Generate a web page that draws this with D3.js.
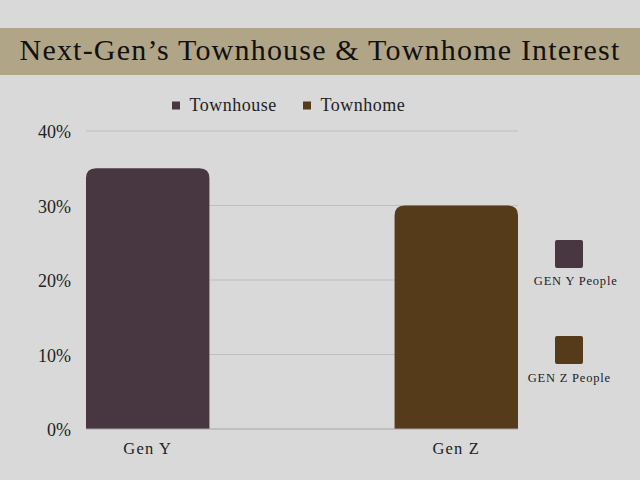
<!DOCTYPE html>
<html>
<head>
<meta charset="utf-8">
<script src="https://cdn.jsdelivr.net/npm/d3@7"></script>
<style>
  html, body { margin: 0; padding: 0; background: #d9d9d9; }
</style>
</head>
<body>
<svg id="chart" width="640" height="480"></svg>
<script>
// chart data
const categories = ["Gen Y", "Gen Z"];
const values = [0.35, 0.30];
const seriesNames = ["Townhouse", "Townhome"];
const sideLabels = ["GEN Y People", "GEN Z People"];
const colors = ["#483741", "#553b1a"];
const yTicks = [0, 0.1, 0.2, 0.3, 0.4];

const FONT = "'Liberation Serif', 'Times New Roman', 'DejaVu Serif', serif";

const svg = d3.select("#chart").attr("font-family", FONT);
const width = 640, height = 480;

svg.append("rect").attr("width", width).attr("height", height).attr("fill", "#d9d9d9");

// title banner
svg.append("rect")
  .attr("x", 0).attr("y", 28).attr("width", width).attr("height", 47)
  .attr("fill", "#b1a587");
svg.append("text")
  .attr("x", width / 2).attr("y", 59.5)
  .attr("text-anchor", "middle")
  .attr("font-size", 30)
  .attr("letter-spacing", 1.2)
  .attr("fill", "#111")
  .text("Next-Gen\u2019s Townhouse & Townhome Interest");

const margin = { top: 131, right: 122, bottom: 51, left: 86 };
const w = width - margin.left - margin.right;
const h = height - margin.top - margin.bottom;

const g = svg.append("g").attr("transform", `translate(${margin.left},${margin.top})`);

const x = d3.scaleBand().domain(categories).range([0, w]).paddingInner(0.6).paddingOuter(0);
const y = d3.scaleLinear().domain([0, 0.4]).range([h, 0]);

// gridlines
g.selectAll(".grid")
  .data(yTicks.filter(d => d > 0))
  .join("line")
  .attr("x1", 0).attr("x2", w)
  .attr("y1", d => y(d)).attr("y2", d => y(d))
  .attr("stroke", "#bfbfbf").attr("stroke-width", 1);

// y axis labels
const yAxis = g.append("g")
  .call(d3.axisLeft(y).tickValues(yTicks).tickFormat(d3.format(".0%")).tickSize(0).tickPadding(15))
  .attr("font-family", FONT);
yAxis.select(".domain").remove();
yAxis.selectAll("text").attr("font-size", 18).attr("fill", "#222").attr("dy", "0.37em");

// bars with rounded top corners
const r = 10;
g.selectAll(".bar")
  .data(categories.map((c, i) => ({ c, v: values[i], col: colors[i] })))
  .join("path")
  .attr("fill", d => d.col)
  .attr("d", d => {
    const x0 = x(d.c), x1 = x0 + x.bandwidth(), y0 = y(d.v), yb = y(0);
    return `M${x0},${yb}V${y0 + r}Q${x0},${y0} ${x0 + r},${y0}H${x1 - r}Q${x1},${y0} ${x1},${y0 + r}V${yb}Z`;
  });

// baseline
g.append("line")
  .attr("x1", 0).attr("x2", w).attr("y1", y(0)).attr("y2", y(0))
  .attr("stroke", "#a6a6a6").attr("stroke-width", 1);

// x axis labels
const xAxis = g.append("g").attr("transform", `translate(0,${h})`)
  .call(d3.axisBottom(x).tickSize(0).tickPadding(0))
  .attr("font-family", FONT);
xAxis.select(".domain").remove();
xAxis.selectAll("text").attr("font-size", 16.5).attr("letter-spacing", 1.2)
  .attr("fill", "#222").attr("dy", 25);

// top legend
const legendPos = [172, 303];
const leg = svg.append("g");
seriesNames.forEach((s, i) => {
  leg.append("rect").attr("x", legendPos[i]).attr("y", 101.5).attr("width", 8).attr("height", 8)
    .attr("fill", colors[i]);
  leg.append("text").attr("x", legendPos[i] + 17.5).attr("y", 110.5)
    .attr("font-size", 18).attr("letter-spacing", 0.5).attr("fill", "#222").text(s);
});

// side legend
const sideY = [240, 336];
const sideTextX = [575.7, 569.3];
const sideBase = [285, 381.7];
sideLabels.forEach((s, i) => {
  svg.append("rect").attr("x", 555).attr("y", sideY[i]).attr("width", 28).attr("height", 28)
    .attr("rx", 2).attr("fill", colors[i]);
  svg.append("text").attr("x", sideTextX[i]).attr("y", sideBase[i])
    .attr("text-anchor", "middle").attr("font-size", 12.5).attr("letter-spacing", 0.8)
    .attr("fill", "#222").text(s);
});
</script>
</body>
</html>
